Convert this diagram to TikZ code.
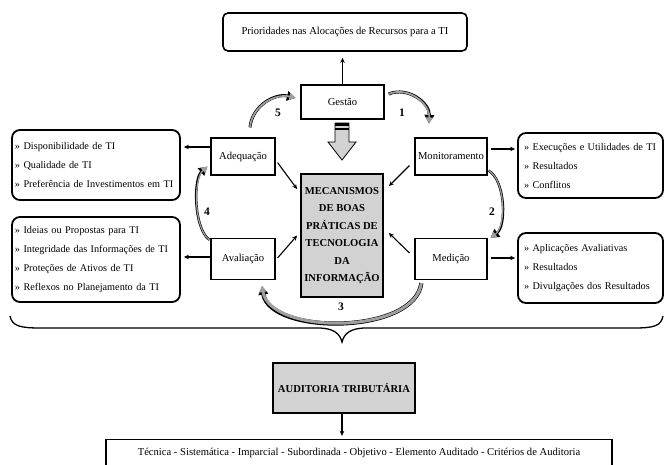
\documentclass[tikz,border=0pt]{standalone}
\usepackage{fontspec}
\setmainfont{Liberation Serif}
\usetikzlibrary{arrows.meta,calc}
\begin{document}
\begin{tikzpicture}[x=1pt,y=-1pt,
  font=\fontsize{10.6}{13}\selectfont,
  plainbox/.style={draw, line width=1.2pt, inner sep=0pt, align=center},
  listbox/.style={draw, line width=1.8pt, rounded corners=8pt, inner ysep=0pt, align=left, font=\fontsize{10.25}{19}\selectfont},
  graybox/.style={draw, line width=1.8pt, fill=gray!35, inner sep=0pt, align=center, font=\fontsize{10.6}{17.5}\selectfont\bfseries},
  arr/.style={line width=1.1pt, -{Stealth[length=5pt,width=4.5pt]}},
  garr/.style={draw=gray!75, line width=#1, -{Triangle[length=6pt,width=7pt]},
     preaction={draw=black, line width=#1+1.2pt, -{Triangle[length=8.5pt,width=9.5pt]}}},
  num/.style={font=\fontsize{11.5}{13}\selectfont\bfseries}
]
\useasboundingbox (0,0) rectangle (665,465);

% nodes
\node[plainbox, line width=1.6pt, rounded corners=5pt, minimum width=244pt, minimum height=38pt] (top) at (345,32) {Prioridades nas Alocações de Recursos para a TI};
\node[plainbox, minimum width=83pt, minimum height=34pt] (ges) at (342.5,102) {Gestão};
\node[plainbox, minimum width=64pt, minimum height=37pt] (ade) at (243,156.5) {Adequação};
\node[plainbox, minimum width=72pt, minimum height=37pt] (mon) at (451,156.5) {Monitoramento};
\node[plainbox, minimum width=64pt, minimum height=41pt] (ava) at (243,259) {Avaliação};
\node[plainbox, minimum width=72pt, minimum height=41pt] (med) at (451,259) {Medição};
\node[graybox, minimum width=82pt, minimum height=123pt] (mech) at (342,235.5) {MECANISMOS\\DE BOAS\\PRÁTICAS DE\\TECNOLOGIA\\DA\\INFORMAÇÃO};

\node[listbox, inner xsep=3pt, text width=162pt, minimum width=168pt, minimum height=70pt] (lt) at (96,165)
 {\mbox{» Disponibilidade de TI}\\\mbox{» Qualidade de TI}\\\mbox{» Preferência de Investimentos em TI}};
\node[listbox, inner xsep=3pt, text width=162pt, minimum width=168pt, minimum height=85pt] (lb) at (96,259.5)
 {\mbox{» Ideias ou Propostas para TI}\\\mbox{» Integridade das Informações de TI}\\\mbox{» Proteções de Ativos de TI}\\\mbox{» Reflexos no Planejamento da TI}};
\node[listbox, inner xsep=6pt, text width=133pt, minimum width=145pt, minimum height=65pt] (rt) at (590.5,165.5)
 {\mbox{» Execuções e Utilidades de TI}\\\mbox{» Resultados}\\\mbox{» Conflitos}};
\node[listbox, inner xsep=6pt, text width=133pt, minimum width=145pt, minimum height=70pt] (rb) at (590.5,268)
 {\mbox{» Aplicações Avaliativas}\\\mbox{» Resultados}\\\mbox{» Divulgações dos Resultados}};

\node[graybox, line width=1.6pt, minimum width=142pt, minimum height=50pt] (aud) at (344,388) {AUDITORIA TRIBUTÁRIA};
\node[plainbox, minimum width=506pt, minimum height=27pt] (bot) at (359,453) {Técnica - Sistemática - Imparcial - Subordinada - Objetivo - Elemento Auditado - Critérios de Auditoria};

% straight arrows
\draw[arr, shorten >=6pt] (ges.north) -- (ges.north |- top.south);
\draw[arr] ([yshift=9.5pt]ade.west) -- ([yshift=18pt,xshift=3pt]lt.east);
\draw[arr] ([yshift=2pt]ava.west) -- ([yshift=2.5pt,xshift=3pt]lb.east);
\draw[arr] ([yshift=7.5pt,xshift=3pt]mon.east) -- ([yshift=16.5pt,xshift=-2pt]rt.west);
\draw[arr] ([yshift=1pt,xshift=3pt]med.east) -- ([yshift=10pt,xshift=-2pt]rb.west);
\draw[arr] ([xshift=2pt,yshift=13pt]ade.south east) -- ([xshift=-3pt,yshift=-16pt]mech.north west);
\draw[arr] ([xshift=-5pt,yshift=10pt]mon.south west) -- ([xshift=5pt,yshift=-13pt]mech.north east);
\draw[arr] ([xshift=2pt,yshift=-20pt]ava.north east) -- ([xshift=-3pt,yshift=0pt]mech.west);
\draw[arr] ([xshift=-5pt,yshift=-15pt]med.north west) -- ([xshift=5pt,yshift=2.5pt]mech.east);
\draw[arr, shorten >=3pt] ([xshift=-2pt]aud.south) -- ([xshift=-2pt]aud.south |- bot.north);

% block arrow
\filldraw[fill=gray!35, line width=0.8pt] (335,123) -- (349,123) -- (349,142) -- (356,142) -- (342,160) -- (328,142) -- (335,142) -- cycle;
\fill (335,123) rectangle (349,126.5);
\fill (335,128) rectangle (349,130);

% curved arrows
\draw[garr=1.8pt] ([xshift=7pt,yshift=10pt]ade.north) .. controls +(2,-22) and +(-20,-5) .. ([xshift=-5pt,yshift=4pt]ges.west);
\draw[garr=1.8pt] ([xshift=4pt,yshift=8pt]ges.east) .. controls +(20,-8) and +(1,-20) .. ([xshift=-22pt,yshift=14pt]mon.north);
\draw[garr=1.2pt] ([xshift=-1pt,yshift=-2pt]ava.north west) .. controls +(-16,-12) and +(-14,12) .. ([xshift=-3pt,yshift=9pt]ade.south west);
\draw[garr=1.2pt] ([xshift=1pt,yshift=5pt]mon.south east) .. controls +(17,10) and +(16,-12) .. ([xshift=3pt]med.north east);
\draw[garr=3pt] ([xshift=7pt,yshift=-3pt]med.south west) .. controls +(-7,52) and +(8,49) .. ([xshift=19pt,yshift=-6pt]ava.south);

% labels
\node[num] (n5) at (278,113) {5};
\node[num] (n1) at (402,113) {1};
\node[num] (n4) at (207,212) {4};
\node[num] (n2) at (492,212) {2};
\node[num] (n3) at (341,307) {3};

% brace
\draw[line width=1.3pt] (10,316) .. controls (12,326) and (20,328) .. (40,328) -- (318,328) .. controls (334,328) and (340,334) .. (342,342)
  .. controls (344,334) and (350,328) .. (366,328) -- (634,328) .. controls (654,328) and (661,326) .. (663,316);
\end{tikzpicture}
\end{document}
